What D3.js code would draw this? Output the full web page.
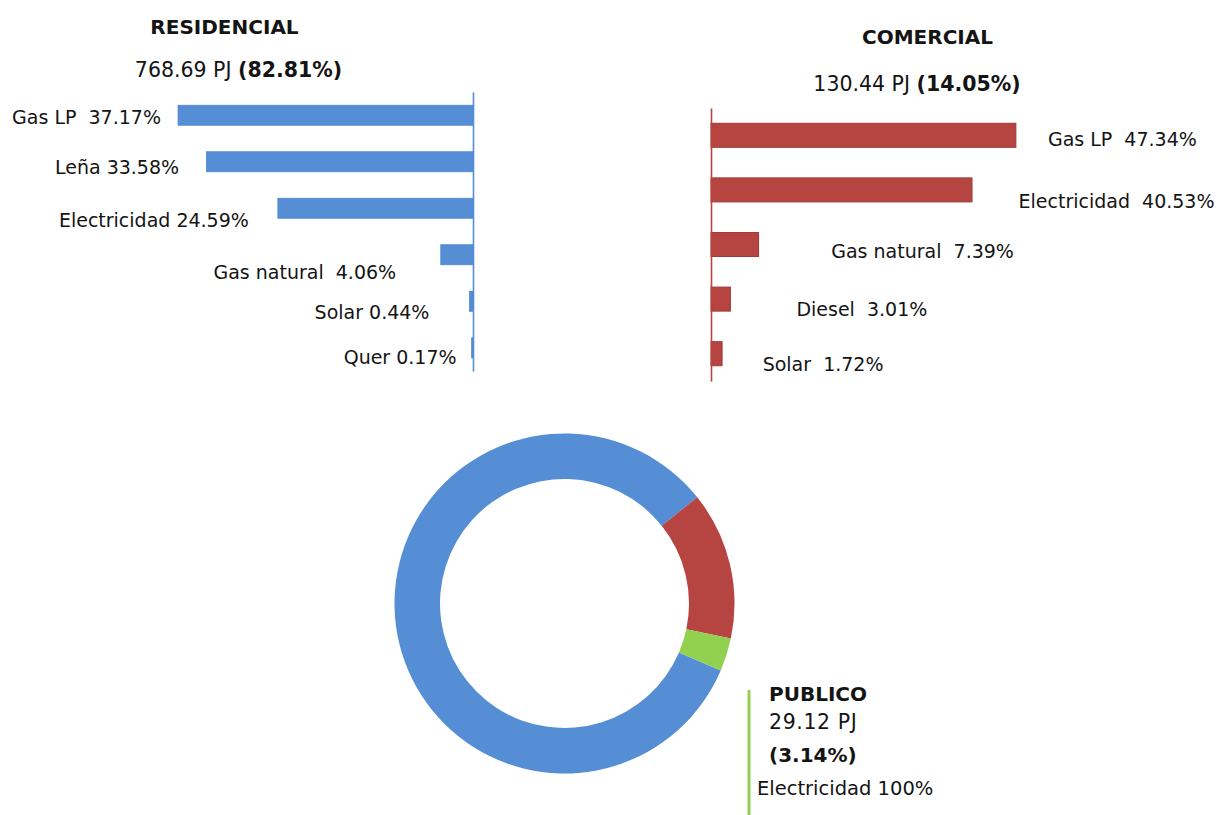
<!DOCTYPE html>
<html>
<head>
<meta charset="utf-8">
<script src="https://cdn.jsdelivr.net/npm/d3@7/dist/d3.min.js"></script>
<style>
  html, body { margin: 0; padding: 0; background: #ffffff; }
  svg { display: block; }
  text { font-family: "DejaVu Sans", "Liberation Sans", sans-serif; fill: #141414; white-space: pre; }
</style>
</head>
<body>
<svg id="chart" width="1222" height="815"></svg>
<script>
// ---------- DATA ----------
const sectors    = ["RESIDENCIAL", "COMERCIAL", "PUBLICO"];
const sectorPJ   = [768.69, 130.44, 29.12];
const sectorPct  = [82.81, 14.05, 3.14];

const resCats    = ["Gas LP", "Leña", "Electricidad", "Gas natural", "Solar", "Quer"];
const resValues  = [37.17, 33.58, 24.59, 4.06, 0.44, 0.17];

const comCats    = ["Gas LP", "Electricidad", "Gas natural", "Diesel", "Solar"];
const comValues  = [47.34, 40.53, 7.39, 3.01, 1.72];

const pubCats    = ["Electricidad"];
const pubValues  = [100];

// ---------- LAYOUT / STYLE ----------
const colors = { res: "#558ED5", com: "#B64542", pub: "#92D050" };
// label centre offsets relative to bar end (dx) and band centre (dy)
const resLabelOff = [[-91.5, 1.7], [-89.5, 5.2], [-124, 11.7], [-136, 17.2], [-97.5, 10.7], [-71.5, 9.2]];
const comLabelOff = [[106.5, 3.4], [144.5, 11.1], [164, 6.5], [131.5, 9.9], [101, 10.3]];
const resSep = ["  ", " ", " ", "  ", " ", " "];
const comSep = ["  ", "  ", "  ", "  ", "  "];

const svg = d3.select("#chart");
const fmt = d3.format(".2f");

// ---------- RESIDENCIAL ----------
const resX = d3.scaleLinear().domain([0, 40]).range([473, 155.6]);
const resY = d3.scaleBand().domain(resCats).range([92, 371]).paddingInner(0.57).paddingOuter(0.285);

const gRes = svg.append("g");
gRes.selectAll("rect").data(resCats).join("rect")
  .attr("x", (d, i) => resX(resValues[i]))
  .attr("y", d => resY(d))
  .attr("width", (d, i) => resX(0) - resX(resValues[i]))
  .attr("height", resY.bandwidth())
  .attr("fill", colors.res)
  .attr("stroke", "#4F86CB").attr("stroke-width", 0.8);

gRes.append("g").attr("transform", `translate(${resX(0)},0)`)
  .call(d3.axisLeft(resY).tickSize(0).tickFormat(""))
  .call(g => g.select(".domain").attr("stroke", colors.res).attr("stroke-width", 1.6));

gRes.selectAll("text.lbl").data(resCats).join("text").attr("class", "lbl")
  .attr("x", (d, i) => resX(resValues[i]) + resLabelOff[i][0])
  .attr("y", (d, i) => resY(d) + resY.bandwidth() / 2 + resLabelOff[i][1])
  .attr("dy", "0.36em").attr("text-anchor", "middle")
  .style("font-size", "19px")
  .text((d, i) => d + resSep[i] + fmt(resValues[i]) + "%");

// titles
function sectorTitle(cx1, y1, cx2, y2, i) {
  svg.append("text").attr("x", cx1).attr("y", y1).attr("dy", "0.36em")
    .attr("text-anchor", "middle").style("font-size", "20px").style("font-weight", "bold")
    .text(sectors[i]);
  const t = svg.append("text").attr("x", cx2).attr("y", y2).attr("dy", "0.36em")
    .attr("text-anchor", "middle").style("font-size", "20.5px");
  t.append("tspan").text(fmt(sectorPJ[i]) + " PJ ");
  t.append("tspan").style("font-weight", "bold").text("(" + fmt(sectorPct[i]) + "%)");
}
sectorTitle(224.5, 27, 238.5, 70, 0);
sectorTitle(927.5, 37, 917, 84, 1);

// ---------- COMERCIAL ----------
const comX = d3.scaleLinear().domain([0, 50]).range([711, 1033]);
const comY = d3.scaleBand().domain(comCats).range([108, 381]).paddingInner(0.56).paddingOuter(0.28);

const gCom = svg.append("g");
gCom.selectAll("rect").data(comCats).join("rect")
  .attr("x", comX(0))
  .attr("y", d => comY(d))
  .attr("width", (d, i) => comX(comValues[i]) - comX(0))
  .attr("height", comY.bandwidth())
  .attr("fill", colors.com)
  .attr("stroke", "#9E3A37").attr("stroke-width", 1);

gCom.append("g").attr("transform", `translate(${comX(0)},0)`)
  .call(d3.axisRight(comY).tickSize(0).tickFormat(""))
  .call(g => g.select(".domain").attr("stroke", colors.com).attr("stroke-width", 1.6));

gCom.selectAll("text.lbl").data(comCats).join("text").attr("class", "lbl")
  .attr("x", (d, i) => comX(comValues[i]) + comLabelOff[i][0])
  .attr("y", (d, i) => comY(d) + comY.bandwidth() / 2 + comLabelOff[i][1])
  .attr("dy", "0.36em").attr("text-anchor", "middle")
  .style("font-size", "19px")
  .text((d, i) => d + comSep[i] + fmt(comValues[i]) + "%");

// ---------- DONUT ----------
const startA = 113.2 * Math.PI / 180;
const pie = d3.pie().sort(null).startAngle(startA).endAngle(startA + 2 * Math.PI);
const arc = d3.arc().innerRadius(124.5).outerRadius(170);
const donutColors = [colors.res, colors.com, colors.pub];
svg.append("g").attr("transform", "translate(564.5,603.5)")
  .selectAll("path").data(pie(sectorPct)).join("path")
  .attr("d", arc)
  .attr("fill", (d, i) => donutColors[i]);

// ---------- PUBLICO label ----------
svg.append("line").attr("x1", 749).attr("x2", 749).attr("y1", 690).attr("y2", 815)
  .attr("stroke", colors.pub).attr("stroke-width", 3);
svg.append("text").attr("x", 769).attr("y", 693.5).attr("dy", "0.36em")
  .style("font-size", "20px").style("font-weight", "bold").text(sectors[2]);
svg.append("text").attr("x", 769).attr("y", 722).attr("dy", "0.36em")
  .style("font-size", "20.5px").style("letter-spacing", "0.6px").text(fmt(sectorPJ[2]) + " PJ");
svg.append("text").attr("x", 769).attr("y", 755).attr("dy", "0.36em")
  .style("font-size", "20px").style("font-weight", "bold").text("(" + fmt(sectorPct[2]) + "%)");
svg.append("text").attr("x", 757).attr("y", 788).attr("dy", "0.36em")
  .style("font-size", "19.5px").text(pubCats[0] + " " + pubValues[0] + "%");
</script>
</body>
</html>
